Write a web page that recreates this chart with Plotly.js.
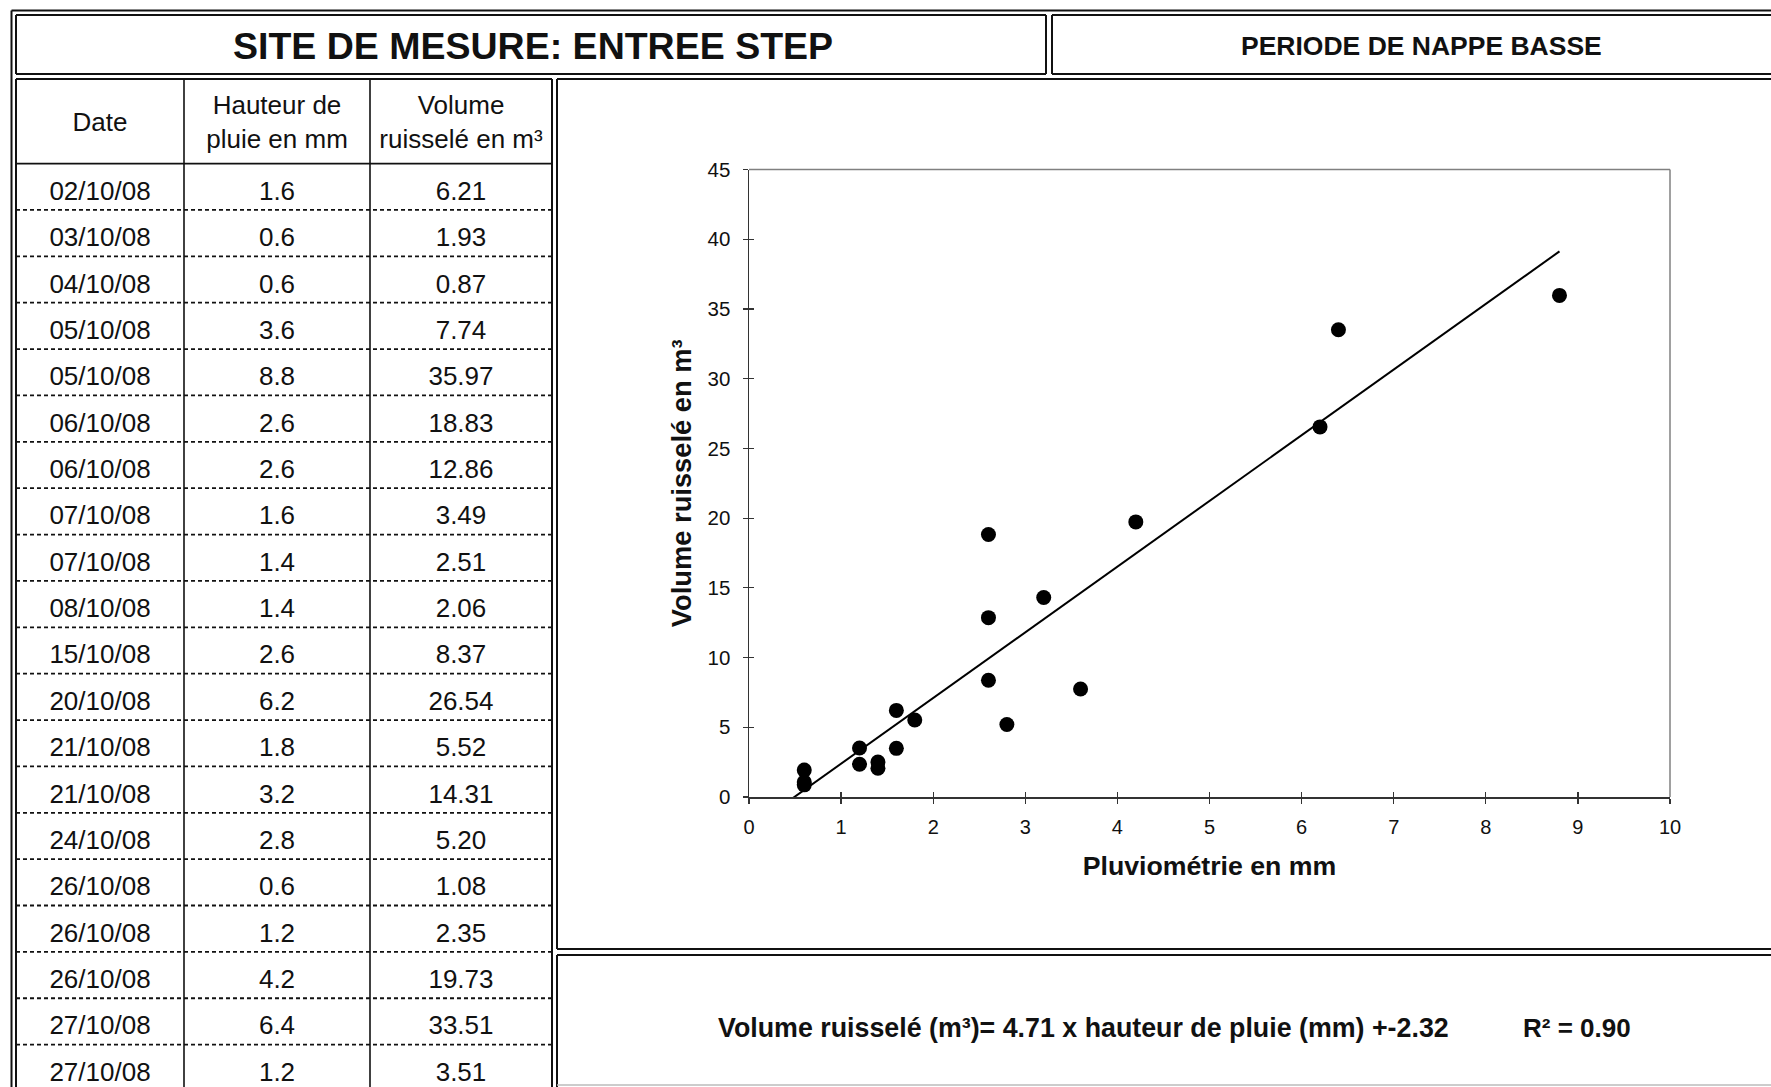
<!DOCTYPE html>
<html>
<head>
<meta charset="utf-8">
<script src="https://cdn.plot.ly/plotly-3.0.1.min.js"></script>
<style>
  html, body { margin: 0; padding: 0; background: #ffffff; }
  #chart { width: 1771px; height: 1087px; }
</style>
</head>
<body>
<div id="chart"></div>
<script>
// ---------- DATA ----------
const dates = ["02/10/08","03/10/08","04/10/08","05/10/08","05/10/08","06/10/08","06/10/08",
               "07/10/08","07/10/08","08/10/08","15/10/08","20/10/08","21/10/08","21/10/08",
               "24/10/08","26/10/08","26/10/08","26/10/08","27/10/08","27/10/08"];
const rainMm = [1.6, 0.6, 0.6, 3.6, 8.8, 2.6, 2.6, 1.6, 1.4, 1.4, 2.6, 6.2, 1.8, 3.2, 2.8, 0.6, 1.2, 4.2, 6.4, 1.2];
const volumeM3 = [6.21, 1.93, 0.87, 7.74, 35.97, 18.83, 12.86, 3.49, 2.51, 2.06, 8.37, 26.54, 5.52, 14.31, 5.20, 1.08, 2.35, 19.73, 33.51, 3.51];
const tableHeaders = ["Date", "Hauteur de<br>pluie en mm", "Volume<br>ruisselé en m³"];
const trendSlope = 4.71;
const trendIntercept = -2.32;
const r2 = 0.90;
const trendXRange = [0.4, 8.8];
const xTicks = [0,1,2,3,4,5,6,7,8,9,10];
const yTicks = [0,5,10,15,20,25,30,35,40,45];
const mainTitle = "SITE DE MESURE: ENTREE STEP";
const periodTitle = "PERIODE DE NAPPE BASSE";
const xTitle = "Pluviométrie en mm";
const yTitle = "Volume ruisselé en m³";

// ---------- LAYOUT GEOMETRY (pixels) ----------
const W = 1771, H = 1087;
const px = v => v / W;
const py = v => 1 - v / H;
const FONT = "Arial, 'Liberation Sans', Helvetica, sans-serif";

const tableLeft = 16, tableRight = 552, tableTop = 79, headerBottom = 163.6, rowH = 46.37;
const colCenters = [100, 277, 461];
const colLines = [184, 370];
const plotL = 749, plotR = 1670, plotT = 169.5, plotB = 797;

const bodyRows = (H - headerBottom) / rowH;
const headerRows = (headerBottom - tableTop) / rowH;

// ---------- TRACES ----------
const traces = [];

// scatter points
traces.push({
  type: "scatter", mode: "markers",
  x: rainMm, y: volumeM3,
  marker: { color: "#000000", size: 15 },
  xaxis: "x", yaxis: "y", showlegend: false, hoverinfo: "x+y"
});

// trend line from equation
const trendX = trendXRange.slice();
const trendY = trendX.map(v => trendSlope * v + trendIntercept);
traces.push({
  type: "scatter", mode: "lines",
  x: trendX, y: trendY,
  line: { color: "#000000", width: 2 },
  xaxis: "x", yaxis: "y", showlegend: false, hoverinfo: "skip"
});

// inside tick overlay (for crossing ticks)
traces.push({
  type: "scatter", mode: "markers", x: [null], y: [null],
  xaxis: "x3", yaxis: "y3", showlegend: false, hoverinfo: "skip"
});

// table body texts
const colValues = [
  dates,
  rainMm.map(v => v.toFixed(1)),
  volumeM3.map(v => v.toFixed(2))
];
colValues.forEach((vals, c) => {
  traces.push({
    type: "scatter", mode: "text",
    x: vals.map(() => colCenters[c]),
    y: vals.map((_, i) => i + 0.64),
    text: vals,
    textposition: "middle center",
    textfont: { family: FONT, size: 26, color: "#111111" },
    cliponaxis: false,
    xaxis: "x2", yaxis: "y2", showlegend: false, hoverinfo: "skip"
  });
});

// table headers
traces.push({
  type: "scatter", mode: "text",
  x: colCenters, y: tableHeaders.map(() => -0.84),
  text: tableHeaders,
  textposition: "middle center",
  textfont: { family: FONT, size: 26, color: "#111111" },
  cliponaxis: false,
  xaxis: "x2", yaxis: "y2", showlegend: false, hoverinfo: "skip"
});

// ---------- SHAPES ----------
const black = { color: "#111111", width: 2 };
const shapes = [];
function hline(y, x0, x1, line) {
  shapes.push({ type: "line", xref: "paper", yref: "paper", x0: px(x0), x1: px(x1), y0: py(y), y1: py(y), line: line || black, layer: "above" });
}
function vline(x, y0, y1, line) {
  shapes.push({ type: "line", xref: "paper", yref: "paper", x0: px(x), x1: px(x), y0: py(y0), y1: py(y1), line: line || black, layer: "above" });
}
// outer frame
hline(10.5, 11.5, W + 5);
vline(11.5, 10.5, H + 5);
// title box
hline(15, 16, 1046); hline(74, 16, 1046); vline(16, 15, 74); vline(1046, 15, 74);
// right header box
hline(15, 1052, W + 5); hline(74, 1052, W + 5); vline(1052, 15, 74);
// table frame
hline(tableTop, tableLeft, tableRight);
vline(tableLeft, tableTop, H + 5); vline(tableRight, tableTop, H + 5);
colLines.forEach(x => vline(x, tableTop, H + 5, { color: "#111111", width: 1.6 }));
hline(headerBottom, tableLeft, tableRight, { color: "#111111", width: 1.8 });
// dashed row separators
for (let k = 1; k < Math.ceil(bodyRows); k++) {
  shapes.push({ type: "line", xref: "paper", yref: "y2", x0: px(tableLeft), x1: px(tableRight), y0: k, y1: k,
    line: { color: "#111111", width: 1.8, dash: "4px,3px" }, layer: "above" });
}
// chart box
hline(tableTop, 557, W + 5); vline(557, tableTop, 949); hline(949, 557, W + 5);
// equation box
hline(955, 557, W + 5); vline(557, 955, H + 5);
hline(1085, 557, W + 5, { color: "#bbbbbb", width: 1.5 });
// plot area top/right border (gray)
shapes.push({ type: "line", xref: "x domain", yref: "y domain", x0: 0, x1: 1, y0: 1, y1: 1, line: { color: "#808080", width: 1.5 } });
shapes.push({ type: "line", xref: "x domain", yref: "y domain", x0: 1, x1: 1, y0: 0, y1: 1, line: { color: "#808080", width: 1.5 } });

// ---------- ANNOTATIONS ----------
const annotations = [
  { text: mainTitle, xref: "paper", yref: "paper", x: px(533), y: py(46.5), xanchor: "center", yanchor: "middle",
    showarrow: false, font: { family: FONT, size: 37.5, color: "#111111", weight: "bold" } },
  { text: periodTitle, xref: "paper", yref: "paper", x: px(1421), y: py(45.5), xanchor: "center", yanchor: "middle",
    showarrow: false, font: { family: FONT, size: 26.5, color: "#111111", weight: "bold" } },
  { text: "Volume ruisselé (m³)= " + trendSlope.toFixed(2) + " x hauteur de pluie (mm) +" + trendIntercept.toFixed(2),
    xref: "paper", yref: "paper", x: px(716), y: py(1028), xanchor: "left", yanchor: "middle",
    showarrow: false, font: { family: FONT, size: 26.8, color: "#111111", weight: "bold" } },
  { text: "R² = " + r2.toFixed(2),
    xref: "paper", yref: "paper", x: px(1521), y: py(1028), xanchor: "left", yanchor: "middle",
    showarrow: false, font: { family: FONT, size: 26, color: "#111111", weight: "bold" } }
];

// ---------- AXES ----------
const layout = {
  width: W, height: H,
  margin: { l: 0, r: 0, t: 0, b: 0 },
  paper_bgcolor: "#ffffff", plot_bgcolor: "#ffffff",
  showlegend: false,
  font: { family: FONT, color: "#111111" },
  xaxis: {
    domain: [px(plotL), px(plotR)], range: [0, 10], anchor: "y",
    tickvals: xTicks, ticktext: xTicks.map(String),
    ticks: "outside", ticklen: 5, tickwidth: 1.2, tickcolor: "#333333",
    ticklabelstandoff: 6,
    showline: true, linecolor: "#333333", linewidth: 1.5, mirror: false,
    showgrid: false, zeroline: false, fixedrange: true,
    tickfont: { family: FONT, size: 20, color: "#111111" },
    title: { text: xTitle, standoff: 20, font: { family: FONT, size: 26.7, color: "#111111", weight: "bold" } }
  },
  yaxis: {
    domain: [py(plotB), py(plotT)], range: [0, 45], anchor: "x",
    tickvals: yTicks, ticktext: yTicks.map(String),
    ticks: "outside", ticklen: 5, tickwidth: 1.2, tickcolor: "#333333",
    ticklabelstandoff: 8,
    showline: true, linecolor: "#333333", linewidth: 1.5, mirror: false,
    showgrid: false, zeroline: false, fixedrange: true,
    tickfont: { family: FONT, size: 20.5, color: "#111111" },
    title: { text: yTitle, standoff: 8, font: { family: FONT, size: 27.3, color: "#111111", weight: "bold" } }
  },
  xaxis3: {
    overlaying: "x", anchor: "y3", side: "bottom", range: [0, 10], tickvals: xTicks,
    ticks: "inside", ticklen: 5, tickwidth: 1.2, tickcolor: "#333333",
    showticklabels: false, showline: false, showgrid: false, zeroline: false, fixedrange: true
  },
  yaxis3: {
    overlaying: "y", anchor: "x3", side: "left", range: [0, 45], tickvals: yTicks,
    ticks: "inside", ticklen: 5, tickwidth: 1.2, tickcolor: "#333333",
    showticklabels: false, showline: false, showgrid: false, zeroline: false, fixedrange: true
  },
  xaxis2: {
    domain: [px(tableLeft), px(tableRight)], range: [tableLeft, tableRight], anchor: "y2",
    visible: false, fixedrange: true
  },
  yaxis2: {
    domain: [0, py(tableTop)], range: [bodyRows, -headerRows], anchor: "x2",
    visible: false, fixedrange: true
  },
  shapes: shapes,
  annotations: annotations
};

Plotly.newPlot("chart", traces, layout, { displayModeBar: false, staticPlot: true });
</script>
</body>
</html>
